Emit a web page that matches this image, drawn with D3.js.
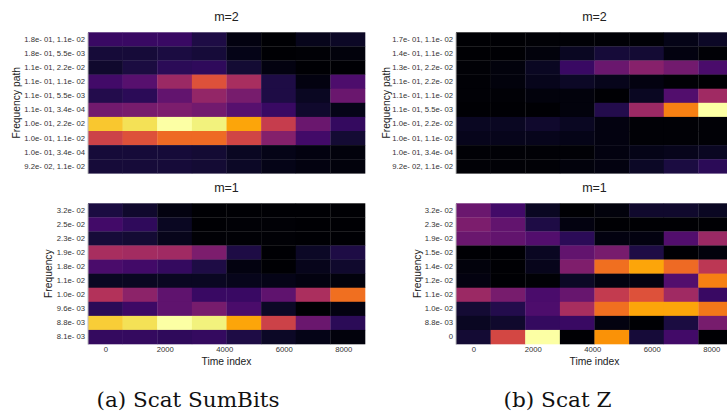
<!DOCTYPE html>
<html><head><meta charset="utf-8">
<script src="https://cdn.jsdelivr.net/npm/d3@7"></script>
<style>body{margin:0;background:#fff}svg{display:block}</style>
</head><body>
<svg id="c" width="727" height="414"></svg>
<script>
const timeCenters = [0, 1164, 2328, 3492, 4656, 5820, 6984, 8148];
const timeExtent = [-582, 8730];
const xTicks = [0, 2000, 4000, 6000, 8000];

const labelsA2 = ["1.8e- 01, 1.1e- 02","1.8e- 01, 5.5e- 03","1.1e- 01, 2.2e- 02","1.1e- 01, 1.1e- 02","1.1e- 01, 5.5e- 03","1.1e- 01, 3.4e- 04","1.0e- 01, 2.2e- 02","1.0e- 01, 1.1e- 02","1.0e- 01, 3.4e- 04","9.2e- 02, 1.1e- 02"];
const valuesA2 = [
 [0.18,0.18,0.18,0.12,0.03,0.00,0.05,0.07],
 [0.10,0.10,0.11,0.10,0.04,0.00,0.01,0.02],
 [0.08,0.11,0.15,0.16,0.09,0.03,0.00,0.00],
 [0.20,0.25,0.42,0.60,0.45,0.12,0.03,0.23],
 [0.13,0.15,0.28,0.40,0.33,0.12,0.06,0.30],
 [0.32,0.33,0.34,0.32,0.25,0.18,0.08,0.04],
 [0.87,0.92,1.00,0.96,0.80,0.53,0.30,0.17],
 [0.55,0.60,0.67,0.67,0.56,0.36,0.20,0.09],
 [0.10,0.10,0.10,0.09,0.06,0.04,0.03,0.02],
 [0.10,0.10,0.10,0.09,0.07,0.04,0.03,0.02]
];
const labelsB2 = ["1.7e- 01, 1.1e- 02","1.4e- 01, 1.1e- 02","1.3e- 01, 2.2e- 02","1.1e- 01, 2.2e- 02","1.1e- 01, 1.1e- 02","1.1e- 01, 5.5e- 03","1.0e- 01, 2.2e- 02","1.0e- 01, 1.1e- 02","1.0e- 01, 3.4e- 04","9.2e- 02, 1.1e- 02"];
const valuesB2 = [
 [0.00,0.00,0.01,0.01,0.01,0.01,0.04,0.07],
 [0.00,0.00,0.02,0.06,0.10,0.09,0.03,0.01],
 [0.01,0.02,0.06,0.18,0.30,0.37,0.32,0.22],
 [0.01,0.02,0.05,0.07,0.05,0.03,0.01,0.00],
 [0.01,0.01,0.02,0.02,0.00,0.06,0.24,0.43],
 [0.00,0.00,0.00,0.02,0.13,0.42,0.72,1.00],
 [0.06,0.06,0.08,0.06,0.03,0.01,0.01,0.01],
 [0.05,0.05,0.05,0.04,0.03,0.01,0.01,0.01],
 [0.01,0.01,0.01,0.01,0.03,0.04,0.05,0.06],
 [0.01,0.01,0.01,0.02,0.03,0.07,0.11,0.15]
];
const labelsA1 = ["3.2e- 02","2.5e- 02","2.3e- 02","1.9e- 02","1.8e- 02","1.1e- 02","1.0e- 02","9.6e- 03","8.8e- 03","8.1e- 03"];
const valuesA1 = [
 [0.11,0.08,0.03,0.00,0.00,0.00,0.00,0.00],
 [0.20,0.16,0.06,0.00,0.01,0.01,0.00,0.00],
 [0.10,0.09,0.05,0.01,0.01,0.01,0.00,0.00],
 [0.45,0.44,0.43,0.34,0.12,0.00,0.07,0.12],
 [0.22,0.20,0.17,0.12,0.03,0.00,0.05,0.08],
 [0.06,0.06,0.06,0.06,0.05,0.04,0.03,0.02],
 [0.48,0.38,0.27,0.18,0.18,0.27,0.46,0.68],
 [0.15,0.19,0.27,0.33,0.22,0.07,0.00,0.03],
 [0.88,0.92,1.00,0.96,0.80,0.55,0.30,0.15],
 [0.17,0.17,0.16,0.17,0.12,0.07,0.04,0.02]
];
const labelsB1 = ["3.2e- 02","2.3e- 02","1.9e- 02","1.5e- 02","1.4e- 02","1.2e- 02","1.1e- 02","1.0e- 02","8.8e- 03","0"];
const valuesB1 = [
 [0.30,0.20,0.06,0.00,0.02,0.08,0.08,0.06],
 [0.34,0.28,0.12,0.03,0.00,0.00,0.00,0.00],
 [0.30,0.28,0.24,0.15,0.03,0.03,0.24,0.42],
 [0.00,0.00,0.06,0.28,0.33,0.12,0.00,0.02],
 [0.02,0.00,0.05,0.35,0.68,0.80,0.67,0.50],
 [0.03,0.00,0.01,0.07,0.03,0.03,0.24,0.72],
 [0.42,0.33,0.22,0.29,0.52,0.60,0.43,0.18],
 [0.09,0.13,0.23,0.45,0.68,0.80,0.80,0.70],
 [0.06,0.08,0.17,0.18,0.03,0.00,0.11,0.33],
 [0.09,0.57,1.00,0.00,0.76,0.10,0.20,0.00]
];
const titles = ["m=2","m=1"];
const captions = ["(a) Scat SumBits","(b) Scat Z"];

const svg = d3.select("#c");
const W = 277;
const panels = [
 {x0:88, y0:32.3, h:141, labels:labelsA2, values:valuesA2, title:titles[0], ylab:"Frequency path", ylx:16, xaxis:false},
 {x0:456, y0:32.3, h:141, labels:labelsB2, values:valuesB2, title:titles[0], ylab:"Frequency path", ylx:386, xaxis:false},
 {x0:88, y0:203.3, h:140.7, labels:labelsA1, values:valuesA1, title:titles[1], ylab:"Frequency", ylx:48, xaxis:true},
 {x0:456, y0:203.3, h:140.7, labels:labelsB1, values:valuesB1, title:titles[1], ylab:"Frequency", ylx:417, xaxis:true}
];
const sans = "'Liberation Sans', Arial, sans-serif";

panels.forEach(p => {
  const g = svg.append("g");
  const x = d3.scaleLinear().domain(timeExtent).range([p.x0, p.x0 + W]);
  const y = d3.scaleBand().domain(p.labels).range([p.y0, p.y0 + p.h]);
  const half = (timeExtent[1]-timeExtent[0]) / timeCenters.length / 2;
  const cells = [];
  p.values.forEach((row, r) => row.forEach((v, c) => cells.push({r, c, v})));
  g.selectAll("rect.cell").data(cells).enter().append("rect")
    .attr("x", d => x(timeCenters[d.c] - half))
    .attr("width", d => x(timeCenters[d.c] + half) - x(timeCenters[d.c] - half) + 0.3)
    .attr("y", d => y(p.labels[d.r]))
    .attr("height", y.bandwidth() + 0.3)
    .attr("fill", d => d3.interpolateInferno(d.v));
  const ya = g.append("g").attr("transform", `translate(${p.x0 - 0.5},0)`)
    .call(d3.axisLeft(y).tickSize(0).tickPadding(2.5));
  ya.select(".domain").attr("stroke", "#bbb").attr("stroke-width", 1);
  ya.selectAll("text").attr("font-family", sans).attr("font-size", 7.7).attr("fill", "#333");
  if (p.xaxis) {
    const xa = g.append("g").attr("transform", `translate(0,${p.y0 + p.h})`)
      .call(d3.axisBottom(x).tickValues(xTicks).tickSize(0).tickPadding(3).tickFormat(d3.format("d")));
    xa.select(".domain").remove();
    xa.selectAll("text").attr("font-family", sans).attr("font-size", 7.7).attr("fill", "#333");
    g.append("text").attr("x", p.x0 + W/2).attr("y", 365)
      .attr("text-anchor", "middle").attr("font-family", sans).attr("font-size", 10.3).attr("fill", "#222")
      .text("Time index");
  }
  g.append("text").attr("x", p.x0 + W/2).attr("y", p.y0 - 11.5)
    .attr("text-anchor", "middle").attr("font-family", sans).attr("font-size", 12.5).attr("fill", "#222")
    .text(p.title);
  g.append("text").attr("transform", `translate(${p.ylx},${p.y0 + p.h/2}) rotate(-90)`)
    .attr("text-anchor", "middle").attr("dominant-baseline", "central")
    .attr("font-family", sans).attr("font-size", 10.3).attr("fill", "#222").text(p.ylab);
});

svg.append("text").attr("x", 188).attr("y", 407).attr("text-anchor", "middle")
  .attr("font-family", "'DejaVu Serif', serif").attr("font-size", 20)
  .attr("textLength", 183).attr("lengthAdjust", "spacingAndGlyphs").attr("fill", "#111").text(captions[0]);
svg.append("text").attr("x", 557.5).attr("y", 407).attr("text-anchor", "middle")
  .attr("font-family", "'DejaVu Serif', serif").attr("font-size", 20)
  .attr("textLength", 108).attr("lengthAdjust", "spacingAndGlyphs").attr("fill", "#111").text(captions[1]);
</script>
</body></html>
